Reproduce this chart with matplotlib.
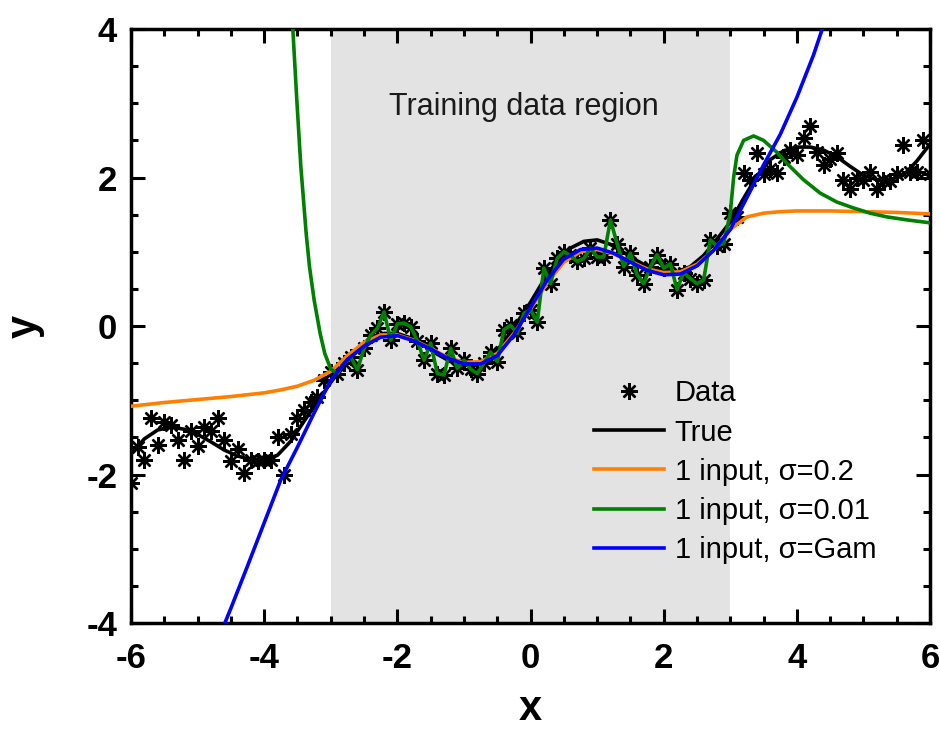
import numpy as np
import matplotlib
matplotlib.use("Agg")
from matplotlib import pyplot as plt

plt.rcParams['font.family'] = ['Liberation Sans', 'DejaVu Sans']
plt.rcParams['axes.unicode_minus'] = False

# noisy samples, one every 0.1 from -6 to 6
data_x = np.linspace(-6, 6, 121)
data_y = [
    -2.12, -1.63, -1.80, -1.24, -1.60, -1.29, -1.33, -1.54, -1.80, -1.42,
    -1.62, -1.36, -1.42, -1.24, -1.54, -1.82, -1.65, -1.98, -1.80, -1.82,
    -1.80, -1.80, -1.49, -2.01, -1.45, -1.24, -1.13, -1.02, -0.95, -0.73,
    -0.62, -0.64, -0.50, -0.42, -0.59, -0.30, -0.12, -0.03, 0.19, -0.19,
    0.03, 0.04, -0.01, -0.20, -0.46, -0.23, -0.64, -0.66, -0.30, -0.57,
    -0.46, -0.58, -0.64, -0.50, -0.35, -0.48, -0.05, 0.01, -0.10, 0.17,
    0.22, 0.05, 0.78, 0.57, 0.91, 1.00, 0.95, 0.87, 0.91, 1.05,
    0.93, 0.93, 1.43, 1.11, 0.80, 0.98, 0.69, 0.57, 0.80, 0.96,
    0.78, 0.84, 0.49, 0.72, 0.64, 0.57, 0.62, 1.16, 1.08, 1.11,
    1.52, 1.47, 2.06, 1.97, 2.33, 2.05, 2.12, 2.06, 2.28, 2.37,
    2.30, 2.53, 2.69, 2.35, 2.17, 2.25, 2.33, 1.97, 1.85, 2.00,
    1.97, 2.08, 1.85, 1.97, 1.95, 2.05, 2.44, 2.08, 2.08, 2.50,
    2.05,
]

# true function, every 0.2
true_x = np.linspace(-6, 6, 61)
true_y = [
    -1.72, -1.52, -1.40, -1.36, -1.39, -1.46, -1.56, -1.67, -1.75, -1.80,
    -1.80, -1.74, -1.55, -1.28, -1.02, -0.76, -0.52, -0.32, -0.17, -0.10,
    -0.10, -0.16, -0.26, -0.38, -0.48, -0.53, -0.52, -0.42, -0.22, 0.05,
    0.32, 0.62, 0.88, 1.05, 1.14, 1.16, 1.10, 0.99, 0.88, 0.78,
    0.73, 0.73, 0.80, 0.95, 1.17, 1.40, 1.72, 2.02, 2.24, 2.36,
    2.41, 2.41, 2.37, 2.28, 2.15, 2.03, 1.97, 1.97, 2.03, 2.22,
    2.45,
]

# 1 input, sigma = 0.2
orange_x = [-6.0, -5.5, -5.0, -4.5, -4.0, -3.75, -3.5, -3.25, -3.0, -2.75,
            -2.5, -2.25, -2.0, -1.75, -1.5, -1.25, -1.0, -0.75, -0.5, -0.25,
            0.0, 0.25, 0.5, 0.75, 1.0, 1.25, 1.5, 1.75, 2.0, 2.25,
            2.5, 2.75, 3.0, 3.25, 3.5, 3.75, 4.0, 4.5, 5.0, 5.5, 6.0]
orange_y = [-1.08, -1.03, -0.99, -0.95, -0.90, -0.86, -0.81, -0.73, -0.61, -0.40,
            -0.22, -0.12, -0.12, -0.19, -0.30, -0.42, -0.49, -0.48, -0.37, -0.10,
            0.23, 0.58, 0.86, 1.00, 1.03, 0.97, 0.87, 0.77, 0.72, 0.73,
            0.83, 1.02, 1.30, 1.47, 1.52, 1.54, 1.55, 1.55, 1.54, 1.53, 1.51]

# 1 input, sigma = 0.01 (outside the training data)
green_left_x = [-3.62, -3.57, -3.51, -3.45, -3.37, -3.32, -3.25, -3.16, -3.09, -3.0]
green_left_y = [5.0, 4.0, 3.04, 2.15, 1.25, 0.80, 0.35, -0.10, -0.37, -0.58]
green_right_x = [3.0, 3.05, 3.1, 3.2, 3.35, 3.5, 3.7, 3.85, 4.1, 4.35,
                 4.6, 4.85, 5.1, 5.35, 5.65, 6.0]
green_right_y = [1.52, 2.0, 2.3, 2.5, 2.56, 2.5, 2.34, 2.19, 1.97, 1.79,
                 1.67, 1.59, 1.52, 1.47, 1.43, 1.39]

# 1 input, sigma = Gam
blue_x = [-4.7, -4.6, -4.5, -4.25, -4.0, -3.75, -3.5, -3.25, -3.0, -2.75,
          -2.5, -2.25, -2.0, -1.75, -1.5, -1.25, -1.0, -0.75, -0.5, -0.25,
          0.0, 0.25, 0.5, 0.75, 1.0, 1.25, 1.5, 1.75, 2.0, 2.25,
          2.5, 2.75, 3.0, 3.25, 3.5, 3.75, 4.0, 4.25, 4.4, 4.5]
blue_y = [-4.25, -4.02, -3.80, -3.23, -2.65, -2.07, -1.63, -1.17, -0.73, -0.45,
          -0.27, -0.15, -0.13, -0.20, -0.31, -0.43, -0.51, -0.51, -0.40, -0.12,
          0.25, 0.62, 0.90, 1.03, 1.05, 0.98, 0.86, 0.75, 0.69, 0.70,
          0.81, 1.02, 1.30, 1.73, 2.17, 2.58, 3.08, 3.65, 4.05, 4.30]

train_lo, train_hi = -3, 3

# green passes through the samples inside the training window
inside = (data_x > train_lo + 0.05) & (data_x < train_hi - 0.05)
green_x = np.concatenate([green_left_x, data_x[inside], green_right_x])
green_y = np.concatenate([green_left_y, np.array(data_y)[inside], green_right_y])

fig = plt.figure(figsize=(9.4, 7.31), dpi=100)
ax = fig.add_axes([0.1394, 0.1477, 0.85, 0.8126])

ax.axvspan(train_lo, train_hi, color='#e3e3e3', lw=0, zorder=0)
ax.text(-0.1, 2.95, 'Training data region', fontsize=22, ha='center', va='center',
        color='#1a1a1a')

ax.plot(data_x, data_y, ls='none', marker=(8, 2, 0), ms=12, mew=1.7, color='black',
        label='Data', zorder=3)
ax.plot(true_x, true_y, color='black', lw=2.6, label='True', zorder=4)
ax.plot(orange_x, orange_y, color='#ff8000', lw=2.6, label='1 input, σ=0.2', zorder=5)
ax.plot(green_x, green_y, color='#008000', lw=2.6, label='1 input, σ=0.01', zorder=6)
ax.plot(blue_x, blue_y, color='#0000ff', lw=2.6, label='1 input, σ=Gam', zorder=7)

ax.set_xlim(-6, 6)
ax.set_ylim(-4, 4)
ax.set_xticks([-6, -4, -2, 0, 2, 4, 6])
ax.set_yticks([-4, -2, 0, 2, 4])
ax.set_xticks(np.arange(-6, 6.01, 0.5), minor=True)
ax.set_yticks(np.arange(-4, 4.01, 0.5), minor=True)
ax.tick_params(which='both', direction='in', top=True, right=True, width=2.2)
ax.tick_params(which='major', length=10, labelsize=25)
ax.tick_params(which='minor', length=5)
ax.tick_params(axis='x', pad=14)
ax.tick_params(axis='y', pad=10)
for lab in ax.get_xticklabels() + ax.get_yticklabels():
    lab.set_fontweight('bold')
for sp in ax.spines.values():
    sp.set_linewidth(2.5)

ax.set_xlabel('x', fontsize=30, fontweight='bold', labelpad=10)
ax.set_ylabel('y', fontsize=30, fontweight='bold', labelpad=30)

ax.legend(loc='upper left', bbox_to_anchor=(0.58, 0.41), frameon=False,
          fontsize=21, handlelength=2.4, handletextpad=0.35, labelspacing=0.38,
          borderpad=0, borderaxespad=0, numpoints=1)

fig.savefig('out.png', dpi=100)
